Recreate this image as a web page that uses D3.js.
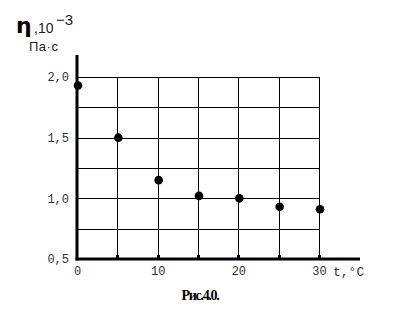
<!DOCTYPE html>
<html>
<head>
<meta charset="utf-8">
<script src="https://cdn.jsdelivr.net/npm/d3@7"></script>
<style>
  body { margin: 0; background: #fff; }
  svg { display: block; }
  .tick text { font-family: "Liberation Mono", "DejaVu Sans Mono", monospace; fill: #333; }
</style>
</head>
<body>
<div id="chart"></div>
<script>
// temperature, °C
const temps = [0, 5, 10, 15, 20, 25, 30];
// viscosity, 10^-3 Pa·s
const viscosity = [1.93, 1.50, 1.15, 1.02, 1.00, 0.93, 0.91];
const xTickLabels = [0, 10, 20, 30];
const yTickLabels = [0.5, 1.0, 1.5, 2.0];
const xGrid = [5, 10, 15, 20, 25, 30];
const yGrid = [0.75, 1.0, 1.25, 1.5, 1.75, 2.0];

const W = 402, H = 328;
const svg = d3.select("#chart").append("svg")
  .attr("width", W).attr("height", H);

const x = d3.scaleLinear().domain([0, 30]).range([77, 319]);
const y = d3.scaleLinear().domain([0.5, 2.0]).range([259, 77]);

// grid
svg.append("g")
  .selectAll("line.h")
  .data(yGrid)
  .join("line")
  .attr("x1", x(0)).attr("x2", x(30))
  .attr("y1", d => Math.round(y(d)) + 0.5).attr("y2", d => Math.round(y(d)) + 0.5)
  .attr("stroke", "#000").attr("stroke-width", 1);

svg.append("g")
  .selectAll("line.v")
  .data(xGrid)
  .join("line")
  .attr("x1", d => Math.round(x(d)) + 0.5).attr("x2", d => Math.round(x(d)) + 0.5)
  .attr("y1", y(2.0)).attr("y2", y(0.5))
  .attr("stroke", "#000").attr("stroke-width", 1);

// axes (labels only, lines drawn separately)
const yAxis = svg.append("g")
  .attr("transform", `translate(${x(0)},0)`)
  .call(d3.axisLeft(y).tickValues(yTickLabels).tickSize(0).tickPadding(8)
    .tickFormat(d => d3.format(".1f")(d).replace(".", ",")));
yAxis.select(".domain").remove();
yAxis.selectAll("text").style("font-size", "12px");

const xAxis = svg.append("g")
  .attr("transform", `translate(0,${y(0.5)})`)
  .call(d3.axisBottom(x).tickValues(xTickLabels).tickSize(0).tickPadding(7));
xAxis.select(".domain").remove();
xAxis.selectAll("text").style("font-size", "12px");

// axis lines
svg.append("line")
  .attr("x1", x(0)).attr("x2", x(0))
  .attr("y1", 55).attr("y2", y(0.5) + 1.5)
  .attr("stroke", "#000").attr("stroke-width", 3);
svg.append("line")
  .attr("x1", x(0) - 1.5).attr("x2", 360)
  .attr("y1", y(0.5)).attr("y2", y(0.5))
  .attr("stroke", "#000").attr("stroke-width", 3);

// small ticks on x axis
svg.append("g")
  .selectAll("rect")
  .data(xGrid)
  .join("rect")
  .attr("x", d => Math.round(x(d)) - 1).attr("y", y(0.5) - 4)
  .attr("width", 3).attr("height", 3)
  .attr("fill", "#000");

// data points
svg.append("g")
  .selectAll("circle")
  .data(temps.map((t, i) => ({ t, v: viscosity[i] })))
  .join("circle")
  .attr("cx", d => x(d.t) + 1)
  .attr("cy", d => y(d.v))
  .attr("r", 4.3)
  .attr("fill", "#000");

// axis titles
const mono = "Liberation Mono, DejaVu Sans Mono, monospace";
const sans = "Liberation Sans, Arial, sans-serif";
svg.append("text")
  .attr("x", 16).attr("y", 33)
  .style("font-family", "DejaVu Sans, sans-serif")
  .style("font-size", "22px").style("font-weight", "bold")
  .text("η");
svg.append("text")
  .attr("x", 34).attr("y", 33)
  .style("font-family", sans)
  .style("font-size", "14px").attr("fill", "#222")
  .text(",10");
svg.append("text")
  .attr("x", 56).attr("y", 25)
  .style("font-family", sans)
  .style("font-size", "15px").attr("fill", "#222")
  .text("−3");
svg.append("text")
  .attr("x", 29).attr("y", 51)
  .style("font-family", sans)
  .style("font-size", "13px").attr("fill", "#222")
  .style("letter-spacing", "0.5px")
  .text("Па·с");

svg.append("text")
  .attr("x", 333).attr("y", 276)
  .style("font-family", mono)
  .style("font-size", "13px").attr("fill", "#333")
  .text("t,°C");

// caption
svg.append("text")
  .attr("x", 200).attr("y", 300)
  .attr("text-anchor", "middle")
  .style("font-family", "Liberation Serif, serif")
  .style("font-size", "14px").style("font-weight", "bold")
  .style("letter-spacing", "-1.3px")
  .text("Рис.4.0.");
</script>
</body>
</html>
